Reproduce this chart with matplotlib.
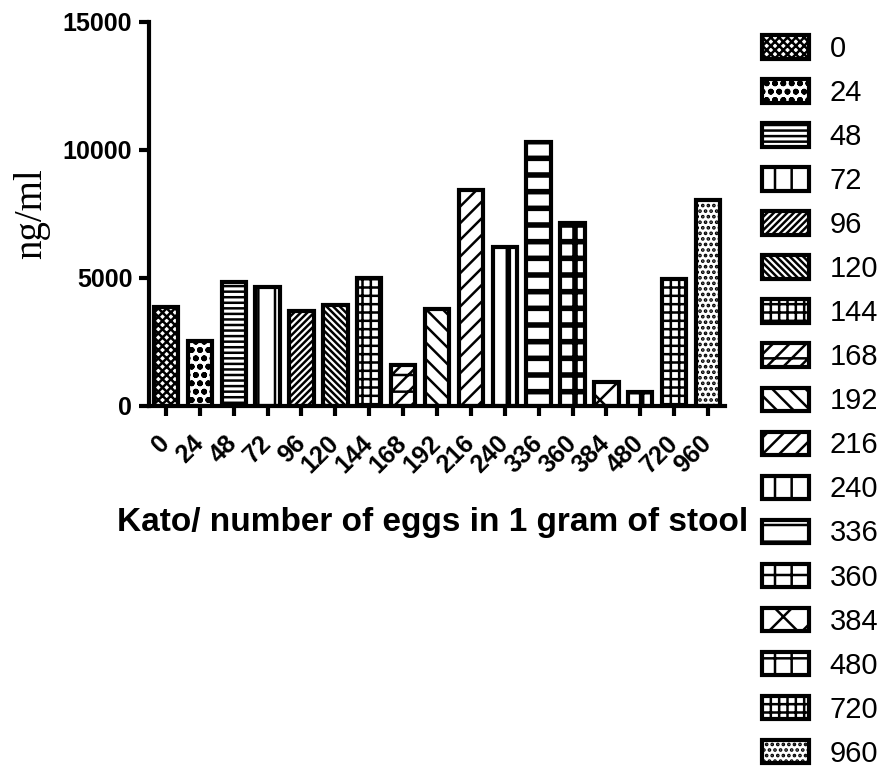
import matplotlib.pyplot as plt
import numpy as np

plt.rcParams['font.family'] = ['Liberation Sans', 'DejaVu Sans']
plt.rcParams['hatch.linewidth'] = 1.8

categories = ["0", "24", "48", "72", "96", "120", "144", "168", "192",
              "216", "240", "336", "360", "384", "480", "720", "960"]
values = [3850, 2550, 4850, 4650, 3700, 3950, 5000, 1600, 3800,
          8450, 6200, 10300, 7150, 950, 550, 4950, 8050]
hatches = ["xxxx", "oo", "---", "|", "/////", "\\\\\\\\\\", "++", "//-",
           "\\\\", "//", "|", "-", "+", "x", "-|", "--||", "..."]
# the coarse patterns are drawn with heavier lines
heavy = ["240", "336", "360", "480"]

fig = plt.figure(figsize=(8.83, 7.70), dpi=100)
ax = fig.add_axes([149 / 883, 1 - 406 / 770, 576 / 883, 384 / 770])

x = np.arange(len(categories))
bars = ax.bar(x, values, width=0.72, color="white", edgecolor="black",
              linewidth=3)
for b, h, c in zip(bars, hatches, categories):
    b.set_hatch(h)
    if c in heavy and hasattr(b, "set_hatch_linewidth"):
        b.set_hatch_linewidth(4)

ax.set_xlim(-0.5, len(categories) - 0.5)
ax.set_ylim(0, 15000)
ax.set_yticks([0, 5000, 10000, 15000])
ax.set_yticklabels(["0", "5000", "10000", "15000"], fontsize=18, fontweight="bold")
ax.set_xticks(x)
ax.set_xticklabels(categories, fontsize=18, fontweight="bold", rotation=45,
                   ha="right", va="center", rotation_mode="anchor")

for s in ["top", "right"]:
    ax.spines[s].set_visible(False)
for s in ["left", "bottom"]:
    ax.spines[s].set_linewidth(3)
ax.tick_params(axis="both", direction="out", length=7, width=3)
ax.tick_params(axis="y", pad=5)
ax.tick_params(axis="x", pad=17)

ax.set_ylabel("ng/ml", fontsize=28, family="Liberation Serif")
ax.yaxis.set_label_coords(-0.172, 0.5)
ax.set_xlabel("Kato/ number of eggs in 1 gram of stool", fontsize=24,
              fontweight="bold")
ax.xaxis.set_label_coords(0.493, -0.262)

fig.legend(handles=list(bars), labels=categories, loc="upper left",
           bbox_to_anchor=(762 / 883, 1 - 35 / 770), frameon=False,
           fontsize=21, labelspacing=0.55, handlelength=1.62,
           handleheight=0.86, handletextpad=0.7, borderpad=0, borderaxespad=0)

fig.savefig("out.png", dpi=100)
